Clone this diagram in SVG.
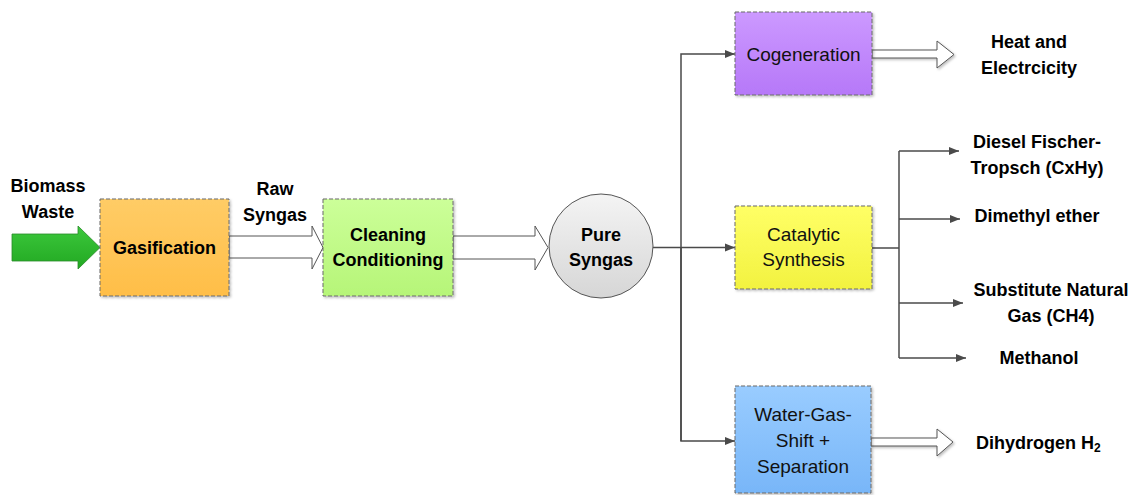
<svg xmlns="http://www.w3.org/2000/svg" width="1136" height="495" viewBox="0 0 1136 495">
<defs>
<linearGradient id="gOrange" x1="0" y1="0" x2="0" y2="1"><stop offset="0" stop-color="#FFCC66"/><stop offset="1" stop-color="#FFBE48"/></linearGradient>
<linearGradient id="gGreen" x1="0" y1="0" x2="0" y2="1"><stop offset="0" stop-color="#CCFF99"/><stop offset="1" stop-color="#B6F578"/></linearGradient>
<linearGradient id="gPurple" x1="0" y1="0" x2="0" y2="1"><stop offset="0" stop-color="#CC99FF"/><stop offset="1" stop-color="#B678F8"/></linearGradient>
<linearGradient id="gYellow" x1="0" y1="0" x2="0" y2="1"><stop offset="0" stop-color="#FFFF66"/><stop offset="1" stop-color="#F2F240"/></linearGradient>
<linearGradient id="gBlue" x1="0" y1="0" x2="0" y2="1"><stop offset="0" stop-color="#99CCFF"/><stop offset="1" stop-color="#78B6F8"/></linearGradient>
<linearGradient id="gGray" x1="0" y1="0" x2="0" y2="1"><stop offset="0" stop-color="#F4F4F4"/><stop offset="1" stop-color="#D6D6D6"/></linearGradient>
<linearGradient id="gArrow" x1="0" y1="0" x2="0" y2="1"><stop offset="0" stop-color="#3CC83C"/><stop offset="1" stop-color="#22A822"/></linearGradient>
<marker id="ah" viewBox="0 0 10 10" refX="10" refY="5" markerWidth="10" markerHeight="10" markerUnits="userSpaceOnUse" orient="auto">
<path d="M0,1 L10,5 L0,9 Z" fill="#4a4a4a"/>
</marker>
<filter id="sh" x="-10%" y="-10%" width="130%" height="130%"><feDropShadow dx="1.5" dy="1.5" stdDeviation="1.2" flood-color="#000" flood-opacity="0.25"/></filter>
</defs>
<style>
.box{stroke:#6a6a6a;stroke-width:1;stroke-dasharray:4 2;filter:url(#sh)}
.lb{font-family:"Liberation Sans",Arial,sans-serif;font-weight:bold;font-size:18px;fill:#000}
.rg{font-family:"Liberation Sans",Arial,sans-serif;font-size:19px;fill:#111}
.cn{fill:none;stroke:#4a4a4a;stroke-width:1.5}
.ha{fill:#fff;stroke:#555;stroke-width:1}
</style>

<g id="connectors">
<polygon points="12,234 78,234 78,226 100,247.5 78,269 78,261 12,261" fill="url(#gArrow)" stroke="#2a8a2a" stroke-width="0.8"/>
<polygon class="ha" points="229,236 312,236 312,226 323,247.5 312,269 312,258 229,258"/>
<polygon class="ha" points="453,236 535,236 535,226 548,247.5 535,270 535,259 453,259"/>
<path class="cn" d="M653,247.5 H735" marker-end="url(#ah)"/>
<path class="cn" d="M681,441 V54 H735" marker-end="url(#ah)"/>
<path class="cn" d="M681,247 V441 H735" marker-end="url(#ah)"/>
<path class="cn" d="M872,248 H899"/>
<path class="cn" d="M899,151 V358"/>
<path class="cn" d="M899,151 H959" marker-end="url(#ah)"/>
<path class="cn" d="M899,219 H960" marker-end="url(#ah)"/>
<path class="cn" d="M899,303 H963" marker-end="url(#ah)"/>
<path class="cn" d="M899,358 H966" marker-end="url(#ah)"/>
<polygon class="ha" filter="url(#sh)" points="872,50 937,50 937,41 954,54.5 937,68 937,58 872,58"/>
<polygon class="ha" filter="url(#sh)" points="871,438 937,438 937,429 953,442 937,456 937,446 871,446"/>
</g>

<g id="biomass"><text class="lb" x="48" y="192" text-anchor="middle">Biomass</text><text class="lb" x="48" y="218" text-anchor="middle">Waste</text></g>
<g id="rawsyngas"><text class="lb" x="275" y="195" text-anchor="middle">Raw</text><text class="lb" x="275" y="221" text-anchor="middle">Syngas</text></g>

<g id="gasification"><rect class="box" x="100" y="199" width="129" height="97" fill="url(#gOrange)"/><text class="lb" x="164.5" y="253.5" text-anchor="middle">Gasification</text></g>
<g id="cleaning"><rect class="box" x="323" y="199" width="130" height="97" fill="url(#gGreen)"/><text class="lb" x="388" y="241" text-anchor="middle">Cleaning</text><text class="lb" x="388" y="266" text-anchor="middle">Conditioning</text></g>
<g id="puresyngas"><circle cx="601" cy="246" r="52" fill="url(#gGray)" stroke="#555" stroke-width="1"/><text class="lb" x="601" y="241" text-anchor="middle">Pure</text><text class="lb" x="601" y="266" text-anchor="middle">Syngas</text></g>

<g id="cogeneration"><rect class="box" x="735" y="12" width="137" height="83" fill="url(#gPurple)"/><text class="rg" x="803.5" y="61" text-anchor="middle">Cogeneration</text></g>
<g id="catalytic"><rect class="box" x="735" y="206" width="137" height="83" fill="url(#gYellow)"/><text class="rg" x="803.5" y="241" text-anchor="middle">Catalytic</text><text class="rg" x="803.5" y="266" text-anchor="middle">Synthesis</text></g>
<g id="watergas"><rect class="box" x="735" y="386" width="136" height="107" fill="url(#gBlue)"/><text class="rg" x="803" y="421" text-anchor="middle">Water-Gas-</text><text class="rg" x="803" y="447" text-anchor="middle">Shift +</text><text class="rg" x="803" y="473" text-anchor="middle">Separation</text></g>

<g id="heat"><text class="lb" x="1029" y="48" text-anchor="middle">Heat and</text><text class="lb" x="1029" y="74" text-anchor="middle">Electrcicity</text></g>
<g id="diesel"><text class="lb" x="1037" y="148" text-anchor="middle">Diesel Fischer-</text><text class="lb" x="1037" y="174" text-anchor="middle">Tropsch (CxHy)</text></g>
<g id="dme"><text class="lb" x="1037" y="222" text-anchor="middle">Dimethyl ether</text></g>
<g id="sng"><text class="lb" x="1051" y="296" text-anchor="middle">Substitute Natural</text><text class="lb" x="1051" y="322" text-anchor="middle">Gas (CH4)</text></g>
<g id="methanol"><text class="lb" x="1039" y="364" text-anchor="middle">Methanol</text></g>
<g id="h2"><text class="lb" x="976" y="449">Dihydrogen H<tspan font-size="12" dy="3">2</tspan></text></g>
</svg>
